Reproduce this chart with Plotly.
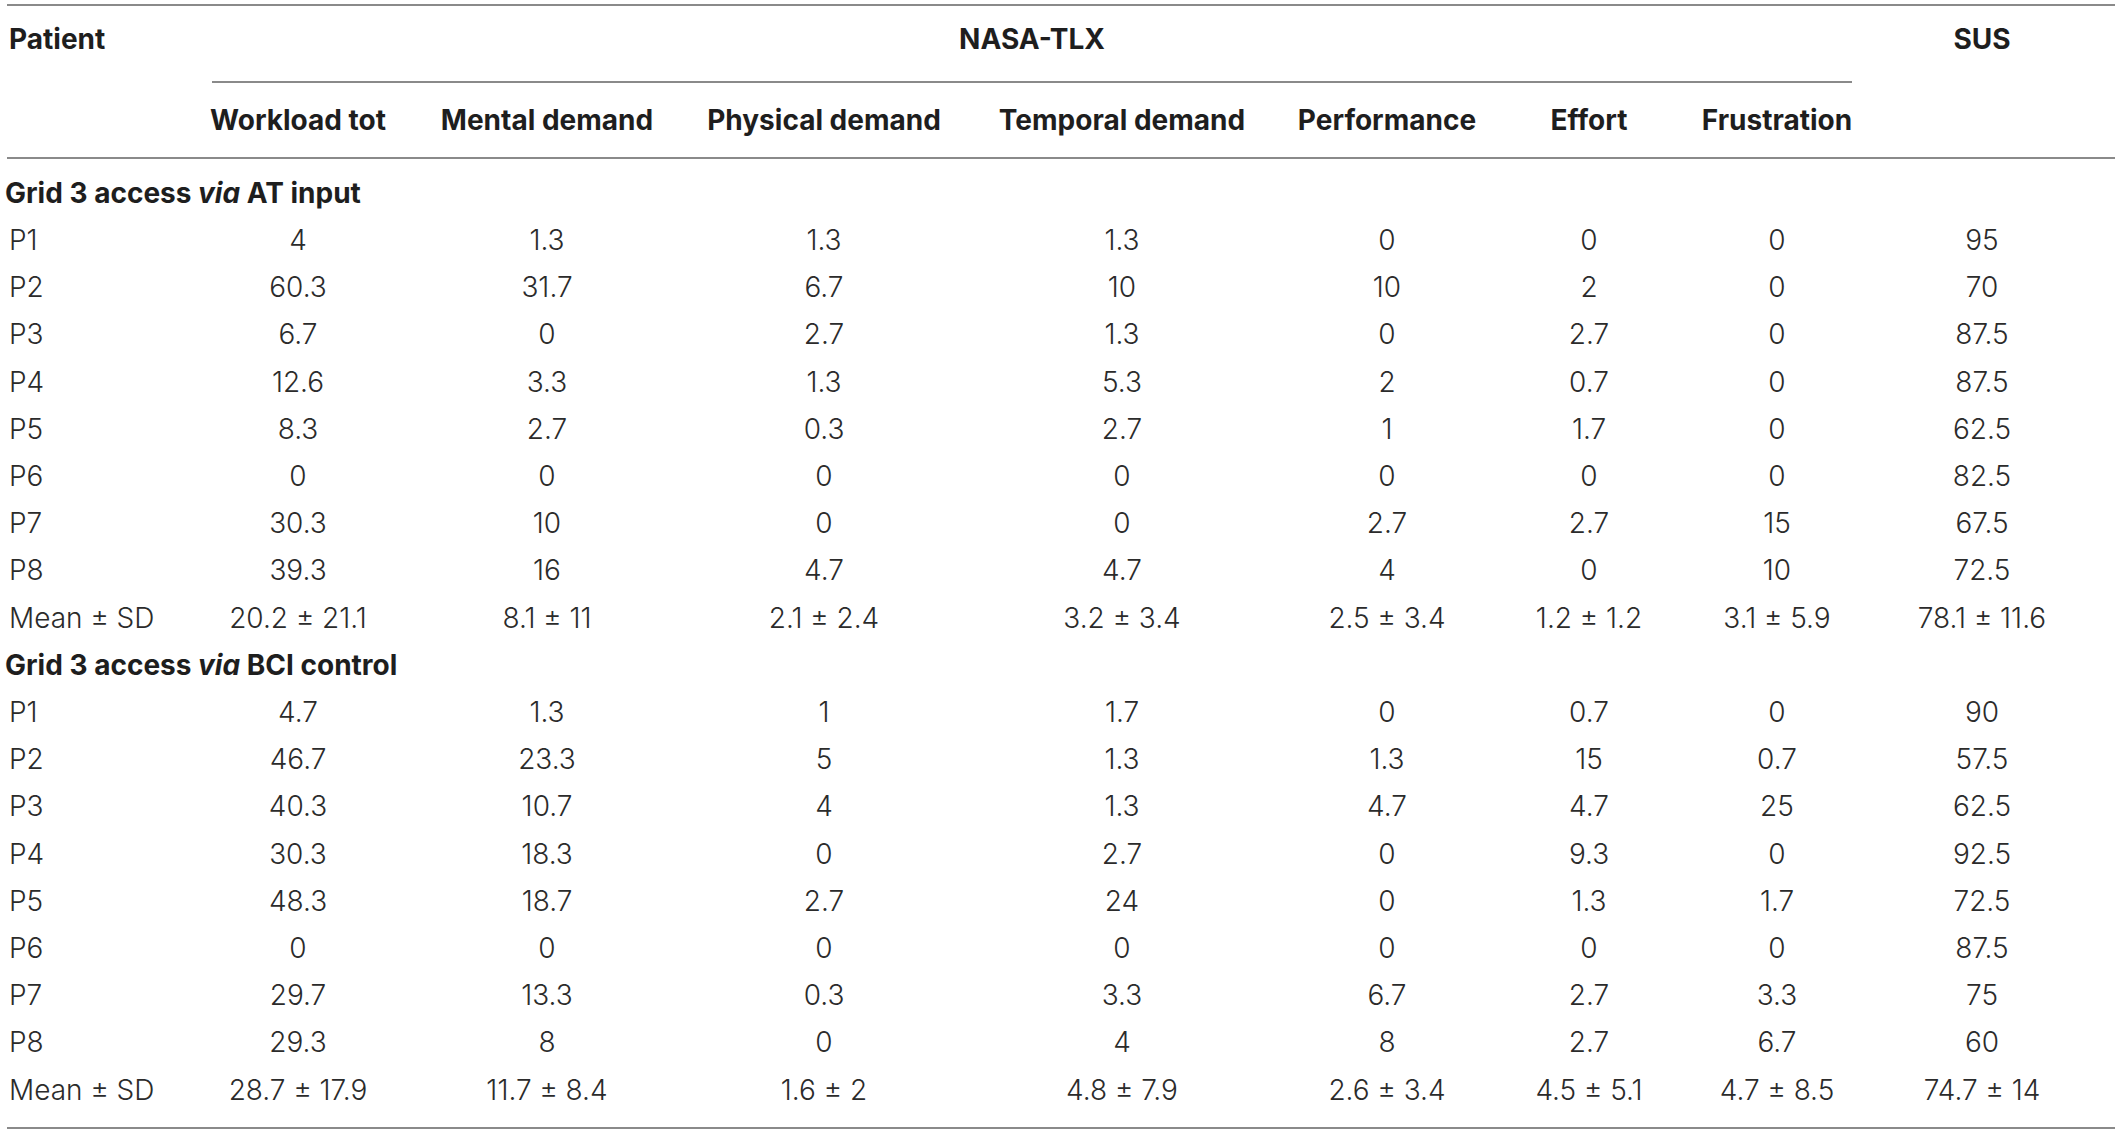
import plotly.graph_objects as go

# ---------------- data ----------------
patients = ["P1", "P2", "P3", "P4", "P5", "P6", "P7", "P8"]
mean_label = "Mean ± SD"
nasa_columns = ["Workload tot", "Mental demand", "Physical demand", "Temporal demand",
                "Performance", "Effort", "Frustration"]
sus_column = "SUS"
section_titles = ["Grid 3 access <i>via</i> AT input", "Grid 3 access <i>via</i> BCI control"]

# Grid 3 access via AT input
at_workload = [4, 60.3, 6.7, 12.6, 8.3, 0, 30.3, 39.3]
at_mental = [1.3, 31.7, 0, 3.3, 2.7, 0, 10, 16]
at_physical = [1.3, 6.7, 2.7, 1.3, 0.3, 0, 0, 4.7]
at_temporal = [1.3, 10, 1.3, 5.3, 2.7, 0, 0, 4.7]
at_performance = [0, 10, 0, 2, 1, 0, 2.7, 4]
at_effort = [0, 2, 2.7, 0.7, 1.7, 0, 2.7, 0]
at_frustration = [0, 0, 0, 0, 0, 0, 15, 10]
at_sus = [95, 70, 87.5, 87.5, 62.5, 82.5, 67.5, 72.5]
at_mean_sd = [(20.2, 21.1), (8.1, 11), (2.1, 2.4), (3.2, 3.4), (2.5, 3.4), (1.2, 1.2), (3.1, 5.9), (78.1, 11.6)]

# Grid 3 access via BCI control
bci_workload = [4.7, 46.7, 40.3, 30.3, 48.3, 0, 29.7, 29.3]
bci_mental = [1.3, 23.3, 10.7, 18.3, 18.7, 0, 13.3, 8]
bci_physical = [1, 5, 4, 0, 2.7, 0, 0.3, 0]
bci_temporal = [1.7, 1.3, 1.3, 2.7, 24, 0, 3.3, 4]
bci_performance = [0, 1.3, 4.7, 0, 0, 0, 6.7, 8]
bci_effort = [0.7, 15, 4.7, 9.3, 1.3, 0, 2.7, 2.7]
bci_frustration = [0, 0.7, 25, 0, 1.7, 0, 3.3, 6.7]
bci_sus = [90, 57.5, 62.5, 92.5, 72.5, 87.5, 75, 60]
bci_mean_sd = [(28.7, 17.9), (11.7, 8.4), (1.6, 2), (4.8, 7.9), (2.6, 3.4), (4.5, 5.1), (4.7, 8.5), (74.7, 14)]

# ---------------- layout geometry ----------------
W, H = 2120, 1135
col_x = [298, 547, 824, 1122, 1387, 1589, 1777, 1982]
label_x = 9
first_row_y = 243
row_step = 47.2
top_line_y, nasa_line_y, header_line_y, bottom_line_y = 5, 82, 158, 1128
head1_y, head2_y = 42, 123
line_x0, line_x1 = 7, 2115
nasa_x0, nasa_x1 = 212, 1852

FAMILY = "Inter, Roboto, 'Liberation Sans', Arial, sans-serif"
BODY = dict(family=FAMILY, size=28, color="#2b2b2b", weight=300)
BOLD = dict(family=FAMILY, size=28, color="#1e1e1e", weight=700)
LINE = dict(color="#8a8a8a", width=2)


def fmt(v):
    return f"{v:g}"


sections = [
    ([at_workload, at_mental, at_physical, at_temporal, at_performance, at_effort, at_frustration, at_sus], at_mean_sd),
    ([bci_workload, bci_mental, bci_physical, bci_temporal, bci_performance, bci_effort, bci_frustration, bci_sus], bci_mean_sd),
]


def row_y(k):
    return first_row_y + row_step * k


fig = go.Figure()

# value columns
for j in range(len(col_x)):
    xs, ys, ts = [], [], []
    for s, (cols, means) in enumerate(sections):
        base = s * (len(patients) + 2)
        for i, v in enumerate(cols[j]):
            xs.append(col_x[j]); ys.append(row_y(base + i)); ts.append(fmt(v))
        m, sd = means[j]
        xs.append(col_x[j]); ys.append(row_y(base + len(patients))); ts.append(f"{fmt(m)} ± {fmt(sd)}")
    fig.add_trace(go.Scatter(x=xs, y=ys, text=ts, mode="text", textposition="middle center",
                             textfont=BODY, hoverinfo="skip", showlegend=False, cliponaxis=False))

# patient labels
lx, ly, lt = [], [], []
for s in range(len(sections)):
    base = s * (len(patients) + 2)
    for i, p in enumerate(patients + [mean_label]):
        lx.append(label_x); ly.append(row_y(base + i)); lt.append(p)
fig.add_trace(go.Scatter(x=lx, y=ly, text=lt, mode="text", textposition="middle right",
                         textfont=BODY, hoverinfo="skip", showlegend=False, cliponaxis=False))

# section titles
sx, sy = [], []
for s in range(len(sections)):
    sx.append(label_x - 4)
    sy.append(row_y(s * (len(patients) + 2) - 1))
fig.add_trace(go.Scatter(x=sx, y=sy, text=section_titles, mode="text", textposition="middle right",
                         textfont=BOLD, hoverinfo="skip", showlegend=False, cliponaxis=False))

# headers
fig.add_trace(go.Scatter(x=[label_x, (nasa_x0 + nasa_x1) / 2, col_x[-1]], y=[head1_y] * 3,
                         text=["Patient", "NASA-TLX", sus_column], mode="text",
                         textposition=["middle right", "middle center", "middle center"],
                         textfont=BOLD, hoverinfo="skip", showlegend=False, cliponaxis=False))
fig.add_trace(go.Scatter(x=col_x[:len(nasa_columns)], y=[head2_y] * len(nasa_columns),
                         text=nasa_columns, mode="text", textposition="middle center",
                         textfont=BOLD, hoverinfo="skip", showlegend=False, cliponaxis=False))

# rules
for y in (top_line_y, header_line_y, bottom_line_y):
    fig.add_shape(type="line", xref="x", yref="y", x0=line_x0, x1=line_x1, y0=y, y1=y, line=LINE)
fig.add_shape(type="line", xref="x", yref="y", x0=nasa_x0, x1=nasa_x1, y0=nasa_line_y, y1=nasa_line_y, line=LINE)

fig.update_layout(
    width=W, height=H, margin=dict(l=0, r=0, t=0, b=0),
    paper_bgcolor="white", plot_bgcolor="white",
    xaxis=dict(range=[0, W], visible=False, fixedrange=True),
    yaxis=dict(range=[H, 0], visible=False, fixedrange=True),
)

fig.write_html("out.html", config={"displayModeBar": False},
               post_script="document.body.style.margin='0';document.body.style.overflow='hidden';")
